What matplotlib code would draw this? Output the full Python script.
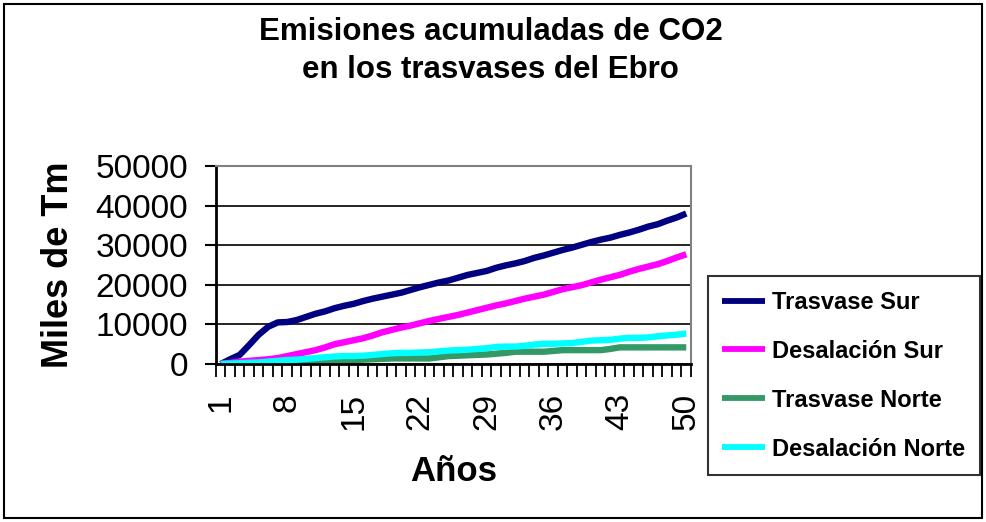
import numpy as np
import matplotlib
matplotlib.use("Agg")
import matplotlib.pyplot as plt
from matplotlib.patches import Rectangle

plt.rcParams['font.family'] = ['Liberation Sans', 'DejaVu Sans']

# años 1..50
anios = list(range(1, 51))

trasvase_sur = [0, 1200, 2300, 4800, 7400, 9400, 10500, 10600, 11100, 11900,
                12700, 13300, 14100, 14700, 15200, 15900, 16500, 17000, 17500, 18000,
                18700, 19400, 20000, 20600, 21100, 21800, 22500, 23000, 23500, 24300,
                24900, 25400, 26000, 26800, 27400, 28100, 28800, 29400, 30100, 30800,
                31400, 31900, 32600, 33200, 33900, 34700, 35300, 36200, 37000, 38000]

desalacion_sur = [0, 300, 600, 800, 1000, 1200, 1500, 2000, 2500, 3000,
                  3500, 4200, 5000, 5500, 6000, 6500, 7200, 8000, 8600, 9200,
                  9700, 10300, 10900, 11400, 11900, 12400, 13000, 13600, 14200, 14800,
                  15300, 15900, 16500, 17000, 17500, 18200, 18900, 19400, 19900, 20600,
                  21300, 21900, 22500, 23300, 24000, 24600, 25200, 26000, 26900, 27700]

trasvase_norte = [0, 0, 0, 0, 0, 0, 0, 0, 100, 200,
                  400, 600, 800, 900, 1000, 1100, 1200, 1300, 1400, 1400,
                  1400, 1400, 1400, 1700, 2000, 2100, 2200, 2300, 2400, 2600,
                  2800, 3100, 3100, 3100, 3100, 3300, 3500, 3500, 3500, 3500,
                  3500, 3800, 4200, 4200, 4200, 4200, 4200, 4200, 4200, 4200]

desalacion_norte = [0, 100, 200, 300, 400, 600, 800, 1000, 1100, 1300,
                    1500, 1700, 1900, 2000, 2000, 2100, 2300, 2500, 2700, 2800,
                    2800, 2900, 3000, 3200, 3400, 3500, 3600, 3800, 4000, 4300,
                    4400, 4400, 4600, 4900, 5100, 5100, 5200, 5300, 5600, 5900,
                    6000, 6100, 6400, 6600, 6600, 6700, 7000, 7200, 7400, 7700]

series = [("Trasvase Sur", trasvase_sur, "#000080"),
          ("Desalación Sur", desalacion_sur, "#FF00FF"),
          ("Trasvase Norte", trasvase_norte, "#339966"),
          ("Desalación Norte", desalacion_norte, "#00FFFF")]

fig = plt.figure(figsize=(9.87, 5.22), dpi=100)
ax = fig.add_axes([0.2188, 0.3027, 0.4813, 0.3793])

for nombre, vals, col in series:
    ax.plot(anios, vals, color=col, lw=4.6, label=nombre, solid_capstyle='butt')

ax.set_xlim(0.5, 50.5)
ax.set_ylim(0, 50000)
ax.set_yticks(range(0, 50001, 10000))
ax.yaxis.grid(True, color='black', lw=1.2)
ax.set_axisbelow(True)
ax.tick_params(axis='y', length=8, width=1.5, labelsize=24, pad=12)

ax.set_xticks(anios[::7])
ax.set_xticks(np.arange(0.5, 51, 1), minor=True)
ax.tick_params(axis='x', which='major', length=0, labelsize=24, pad=21,
               labelrotation=90)
ax.tick_params(axis='x', which='minor', length=9, width=1.3)

for s in ['left', 'bottom']:
    ax.spines[s].set_linewidth(2)
    ax.spines[s].set_color('black')
for s in ['top', 'right']:
    ax.spines[s].set_linewidth(1.5)
    ax.spines[s].set_color('#808080')

ax.set_ylabel("Miles de Tm", fontsize=26, fontweight='bold', labelpad=14)
ax.set_xlabel("Años", fontsize=25, fontweight='bold', labelpad=18)

fig.text(0.497, 0.968, "Emisiones acumuladas de CO2\nen los trasvases del Ebro",
         ha='center', va='top', fontsize=22.5, fontweight='bold', linespacing=1.36)

leg = fig.legend(loc='upper left', bbox_to_anchor=(0.717, 0.471), frameon=True,
                 fancybox=False, edgecolor='black', handlelength=1.8,
                 handletextpad=0.3, labelspacing=1.1, borderpad=0.62,
                 borderaxespad=0, prop={'size': 17, 'weight': 'bold'})
leg.get_frame().set_linewidth(1.5)
for h in leg.get_lines():
    h.set_linewidth(4.2)

# marco exterior
fig.patches.append(Rectangle((0.004, 0.008), 0.991, 0.984, transform=fig.transFigure,
                             fill=False, edgecolor='black', lw=1.5))

fig.savefig("out.png", dpi=100)
